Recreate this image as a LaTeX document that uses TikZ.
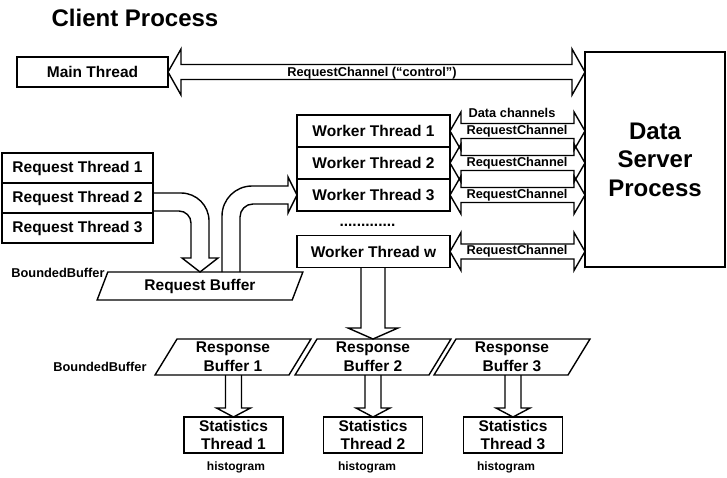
\documentclass[tikz,border=0pt]{standalone}
\usepackage{fontspec}
\setmainfont{Liberation Sans}
\usepackage{tikz}
\usetikzlibrary{arrows,shapes,positioning,calc}
\tikzstyle{thread} = [rectangle, draw, line width=1.4pt, inner sep=0pt, outer sep=0pt, text centered, font=\fontsize{15.5}{18}\selectfont\bfseries]
\tikzstyle{worker} = [thread, minimum width=153pt, minimum height=32pt]
\tikzstyle{request} = [thread, minimum width=151pt, minimum height=30pt]
\tikzstyle{stat} = [thread, minimum width=99pt, minimum height=36pt, align=center]
\tikzstyle{buffer} = [trapezium, draw, line width=1.4pt, trapezium stretches=true, inner sep=0pt, outer sep=0pt, align=center, font=\fontsize{15.5}{19}\selectfont\bfseries]
\tikzstyle{respbuf} = [buffer, minimum width=156pt, minimum height=36pt, trapezium left angle=64, trapezium right angle=116]
\tikzstyle{note} = [inner sep=0pt, font=\fontsize{12.8}{15}\selectfont\bfseries]
\tikzstyle{blockarrow} = [draw, line width=1.4pt, line join=miter]
% straight block arrows
\newcommand{\vblock}[5]{%
  \draw[blockarrow] let \p1=(#1), \p2=(#2) in
    (\x2-#3pt,\y1) -- (\x2-#3pt,\y2+#5pt) -- (\x2-#4pt,\y2+#5pt) -- (\x2,\y2)
    -- (\x2+#4pt,\y2+#5pt) -- (\x2+#3pt,\y2+#5pt) -- (\x2+#3pt,\y1);}
\newcommand{\hchannel}[5]{%
  \draw[blockarrow] let \p1=(#1), \p2=(#2) in
    (\x1,\y1) -- (\x1+#5pt,\y1+#4pt) -- (\x1+#5pt,\y1+#3pt) -- (\x2-#5pt,\y1+#3pt)
    -- (\x2-#5pt,\y1+#4pt) -- (\x2,\y1) -- (\x2-#5pt,\y1-#4pt) -- (\x2-#5pt,\y1-#3pt)
    -- (\x1+#5pt,\y1-#3pt) -- (\x1+#5pt,\y1-#4pt) -- cycle;}

\begin{document}
\begin{tikzpicture}[x=1pt, y=-1pt]
\useasboundingbox (0,0) rectangle (727,477);
% Client side
\node (title) at (135,18) [font=\fontsize{24}{28}\selectfont\bfseries] {Client Process};
\node (main) at (92.5,72) [request] {Main Thread};

% Data server
\node (dsp) at (655,159.5) [thread, minimum width=140pt, minimum height=215pt, align=center, font=\fontsize{24}{28.5}\selectfont\bfseries] {Data\\Server\\Process};

% Worker threads
\node (w1) at (373.5,131) [worker] {Worker Thread 1};
\node (w2) [worker, below=0pt of w1] {Worker Thread 2};
\node (w3) [worker, below=0pt of w2] {Worker Thread 3};
\node (dots) at (367.5,226) [anchor=base, inner sep=0pt, font=\fontsize{15.5}{18}\selectfont\bfseries] {.............};
\node (ww) at (373.5,251.5) [worker] {Worker Thread w};

% Request threads
\node (rt1) at (77.5,168) [request] {Request Thread 1};
\node (rt2) [request, below=0pt of rt1] {Request Thread 2};
\node (rt3) [request, below=0pt of rt2] {Request Thread 3};

% Buffers
\node (bb1) at (58,273) [note] {BoundedBuffer};
\node (rbuf) at (200,286) [buffer, minimum width=206pt, minimum height=28pt, trapezium left angle=66, trapezium right angle=114] {Request Buffer};
\node (bb2) at (100,367) [note] {BoundedBuffer};
\node (rb1) at (233,357) [respbuf] {Response\\Buffer 1};
\node (rb2) at (373,357) [respbuf] {Response\\Buffer 2};
\node (rb3) at (512,357) [respbuf] {Response\\Buffer 3};

% Statistics threads
\node (st1) at (233.5,435) [stat] {Statistics\\Thread 1};
\node (st2) at (373,435) [stat] {Statistics\\Thread 2};
\node (st3) at (513,435) [stat] {Statistics\\Thread 3};
\node (h1) at (236,467) [note, font=\fontsize{12}{14}\selectfont\bfseries] {histogram};
\node (h2) at (367,467) [note, font=\fontsize{12}{14}\selectfont\bfseries] {histogram};
\node (h3) at (506,467) [note, font=\fontsize{12}{14}\selectfont\bfseries] {histogram};

% Channels to the server
\hchannel{main.east}{main.east -| dsp.west}{7.5}{23}{13}
\node (ctrl) at (372,73.5) [note] {RequestChannel (“control”)};
\hchannel{w1.east}{w1.east -| dsp.west}{7.5}{19}{11}
\hchannel{w2.east}{w2.east -| dsp.west}{7.5}{19}{11}
\hchannel{w3.east}{w3.east -| dsp.west}{7.5}{19}{11}
\hchannel{ww.east}{ww.east -| dsp.west}{7.5}{19}{11}
\node (data) at (512,113) [note] {Data channels};
\node (c1) at (517,131) [note] {RequestChannel};
\node (c2) at (517,163) [note] {RequestChannel};
\node (c3) at (517,195) [note] {RequestChannel};
\node (c4) at (517,251.5) [note] {RequestChannel};

% Request threads -> request buffer -> workers
\draw[blockarrow] ($(rt2.east)+(0,-5)$) -- ($(rbuf.north)+(-19,-79)$)
  .. controls ($(rbuf.north)+(-3.5,-79)$) and ($(rbuf.north)+(9,-66.5)$) .. ($(rbuf.north)+(9,-51)$)
  -- ($(rbuf.north)+(9,-14)$) -- ++(9,0) -- (rbuf.north) -- ++(-18,-14) -- ++(9,0)
  -- ($(rbuf.north)+(-9,-49)$)
  .. controls ($(rbuf.north)+(-9,-55.6)$) and ($(rbuf.north)+(-14.4,-61)$) .. ($(rbuf.north)+(-21,-61)$)
  -- ($(rt2.east)+(0,13)$);
\draw[blockarrow] ($(rbuf.north)+(22,0)$) -- ($(rbuf.north)+(22,-56)$)
  .. controls ($(rbuf.north)+(22,-72.6)$) and ($(w3.west)+(-61.6,-9)$) .. ($(w3.west)+(-45,-9)$)
  -- ($(w3.west)+(-9,-9)$) -- ++(0,-9) -- (w3.west) -- ++(-9,18) -- ++(0,-9)
  -- ($(w3.west)+(-44,9)$)
  .. controls ($(w3.west)+(-51.2,9)$) and ($(rbuf.north)+(40,-62.2)$) .. ($(rbuf.north)+(40,-55)$)
  -- ($(rbuf.north)+(40,0)$);

% Workers -> response buffers -> statistics
\vblock{ww.south}{rb2.north}{12}{25}{11}
\vblock{rb1.south}{st1.north}{8}{17}{9}
\vblock{rb2.south}{st2.north}{8}{17}{9}
\vblock{rb3.south}{st3.north}{8}{17}{9}
\end{tikzpicture}
\end{document}
